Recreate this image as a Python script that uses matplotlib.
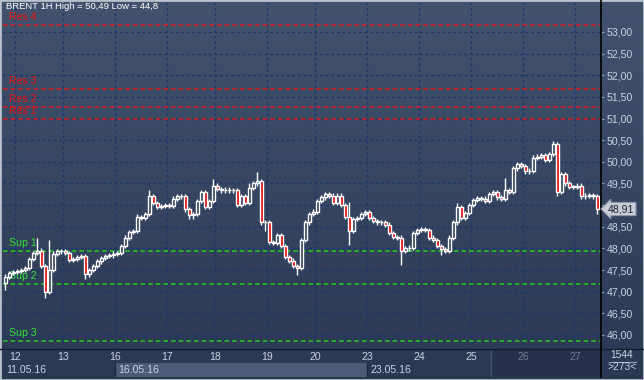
import numpy as np
import matplotlib
matplotlib.use('Agg')
import matplotlib.pyplot as plt
from matplotlib.patches import Rectangle

plt.rcParams['font.family'] = ['Liberation Sans', 'DejaVu Sans']

# hourly closes (open = previous close)
first_open = 47.2
closes = [47.35, 47.43, 47.45, 47.48, 47.5, 47.55, 47.75, 47.9, 47.95, 47.6,
          47.0, 47.5, 47.88, 47.93, 47.93, 47.9, 47.73, 47.75, 47.8, 47.82,
          47.4, 47.5, 47.6, 47.7, 47.78, 47.82, 47.84, 47.88, 47.9, 48.05,
          48.25, 48.38, 48.4, 48.72, 48.7, 48.8, 49.2, 49.05, 48.95, 48.98,
          49.0, 48.98, 49.15, 49.2, 49.2, 48.9, 48.78, 48.8, 49.1, 49.3,
          48.95, 49.1, 49.45, 49.38, 49.34, 49.36, 49.34, 49.35, 49.0, 49.2,
          49.05, 49.4, 49.5, 49.55, 48.6, 48.6, 48.15, 48.12, 48.3, 48.05,
          47.8, 47.72, 47.6, 47.55, 48.2, 48.6, 48.8, 48.85, 49.1, 49.18,
          49.25, 49.22, 49.05, 49.22, 49.0, 48.72, 48.4, 48.68, 48.7, 48.8,
          48.84, 48.7, 48.63, 48.6, 48.6, 48.55, 48.35, 48.27, 48.25, 47.95,
          48.0, 48.02, 48.35, 48.42, 48.45, 48.42, 48.25, 48.2, 48.05, 47.98,
          47.95, 48.25, 48.6, 48.95, 48.7, 48.82, 49.0, 49.12, 49.16, 49.15,
          49.1, 49.25, 49.3, 49.18, 49.15, 49.35, 49.3, 49.85, 49.95, 49.9,
          49.78, 49.8, 50.1, 50.12, 50.15, 50.05, 50.18, 50.42, 49.3, 49.72,
          49.5, 49.42, 49.42, 49.45, 49.2, 49.22, 49.23, 49.2, 48.91]

# visible long wicks (bar index -> price)
high_spikes = {8: 48.24, 11: 48.19, 33: 48.8, 36: 49.35, 52: 49.6, 61: 49.5,
               63: 49.77, 86: 49.07, 113: 49.05, 125: 49.63, 137: 50.49}
low_spikes = {0: 47.05, 10: 46.85, 20: 47.3, 46: 48.68, 47: 48.68, 65: 48.4,
              73: 47.38, 86: 48.08, 99: 47.62, 109: 47.85, 138: 49.2, 148: 48.8}
wick = 0.05

res_levels = [51.0, 51.27, 51.68, 53.16]
res_labels = ['Res 1', 'Res 2', 'Res 3', 'Res 4']
sup_levels = [47.95, 47.18, 45.86]
sup_labels = ['Sup 1', 'Sup 2', 'Sup 3']

day_start = [3, 15, 28, 41, 53, 66, 78, 91, 104, 117, 130, 143]
day_labels = ['12', '13', '16', '17', '18', '19', '20', '23', '24', '25', '26', '27']
week_start = [-0.5, 28, 91]
week_labels = ['11.05.16', '16.05.16', '23.05.16']
last_price = 48.91

W, H = 644, 380
fig = plt.figure(figsize=(W / 100, H / 100), dpi=100)
fig.patch.set_facecolor('#2f3b56')

# gradient background
bg = fig.add_axes([0, 0, 1, 1])
grad = np.linspace(0, 1, 256).reshape(-1, 1)
top = np.array([0.262, 0.322, 0.43])
bot = np.array([0.165, 0.22, 0.33])
img = top[None, None, :] * (1 - grad[:, :, None]) + bot[None, None, :] * grad[:, :, None]
bg.imshow(img, aspect='auto', extent=[0, 1, 0, 1])
bg.set_axis_off()

ax = fig.add_axes([3 / W, (H - 349) / H, 598 / W, 346 / H])
ax.patch.set_alpha(0)
ax.set_xlim(-0.5, 149)
ax.set_ylim(45.676, 53.67)

yt = np.arange(46, 53.01, 0.5)
for v in yt:
    ax.axhline(v, color='#1c3868', lw=1, ls=(0, (2, 2)), zorder=1)
for d in day_start:
    ax.axvline(d - 0.5, color='#1c3868', lw=1, ls=(0, (2, 2)), zorder=1)

for v, lab in zip(res_levels, res_labels):
    ax.axhline(v, color='#d81c24', lw=1.1, ls=(0, (3, 2)), zorder=2)
    ax.annotate(lab, (1.0, v), xytext=(0, 5.6), textcoords='offset points',
                color='#ee1111', fontsize=7.6, va='center', ha='left')
for v, lab in zip(sup_levels, sup_labels):
    ax.axhline(v, color='#22cc22', lw=1.1, ls=(0, (3, 2)), zorder=2)
    ax.annotate(lab, (1.0, v), xytext=(0, 5.6), textcoords='offset points',
                color='#33e033', fontsize=7.6, va='center', ha='left')

opens = [first_open] + closes[:-1]
bw = 0.75
for i, (o, c) in enumerate(zip(opens, closes)):
    hi = high_spikes.get(i, max(o, c) + wick)
    lo = low_spikes.get(i, min(o, c) - wick)
    ax.plot([i, i], [lo, hi], color='white', lw=1, zorder=3, solid_capstyle='butt')
    body = max(abs(c - o), 0.012)
    face = '#e00000' if c < o else '#2e3b58'
    ax.add_patch(Rectangle((i - bw / 2, min(o, c)), bw, body, facecolor=face,
                           edgecolor='white', lw=1, zorder=4))

ax.yaxis.tick_right()
ax.set_yticks(yt)
# the 49,00 label sits under the last-price box
ax.set_yticklabels(['' if abs(v - 49.0) < 0.01 else f'{v:.2f}'.replace('.', ',') for v in yt])
ax.tick_params(axis='y', length=2, pad=2, colors='#7f9cc8', labelcolor='#c9d2e2', labelsize=7.6)
ax.set_xticks([])
for s in ax.spines.values():
    s.set_visible(False)

ax.text(0.2, 53.6, 'BRENT 1H High = 50,49 Low = 44,8', color='white',
        fontsize=6.8, va='center', ha='left', zorder=6)

# bottom time panel
bx = fig.add_axes([3 / W, 3 / H, 598 / W, 28 / H])
bx.set_xlim(-0.5, 149)
bx.set_ylim(0, 2)
bx.set_facecolor('#37445f')
bx.add_patch(Rectangle((week_start[1] - 0.5, 0), week_start[2] - week_start[1], 1,
                       facecolor='#4a5a77', lw=0))
bx.add_patch(Rectangle((121.5, 0), 30, 2, facecolor='#27314b', lw=0))
bx.plot([121.5, 121.5], [0, 2], color='#46526c', lw=1)
for d, lab in zip(day_start, day_labels):
    col = '#c9d2e2' if d < 122 else '#6f7b92'
    bx.text(d - 0.5, 1.45, lab, color=col, fontsize=7.6, ha='center', va='center')
for w, lab in zip(week_start, week_labels):
    if w > 0:
        bx.plot([w - 0.5, w - 0.5], [0, 1], color='#1e2a44', lw=1)
    bx.text(max(w - 0.5, -0.5) + 0.8, 0.5, lab, color='#c9d2e2', fontsize=7.6,
            ha='left', va='center')
bx.set_axis_off()

# frame lines
fig.add_artist(plt.Line2D([0, 1], [(H - 349) / H] * 2, color='#151c2c', lw=1))
fig.add_artist(plt.Line2D([601 / W] * 2, [3 / H, 1], color='black', lw=1.2))
fig.add_artist(Rectangle((0, 0), 1, 1, transform=fig.transFigure, fill=False,
                         edgecolor='#b9c0cb', lw=2))

fig.text(622 / W, 1 - 355 / H, '1544', color='#c9d2e2', fontsize=7.4, ha='center', va='center')
fig.add_artist(plt.Line2D([609 / W, 636 / W], [1 - 361.5 / H] * 2, color='#9aa4b8', lw=0.8))
fig.text(622 / W, 1 - 367.5 / H, '>273<', color='#c9d2e2', fontsize=7.4, ha='center', va='center')

py = 1 - (32 + (53 - last_price) * 43.28) / H
fig.text(608 / W, py, f'{last_price:.2f}'.replace('.', ','), color='#1a2030', fontsize=7.6,
         ha='left', va='center', zorder=10,
         bbox=dict(boxstyle='larrow,pad=0.15', facecolor='#c8ccd4', edgecolor='#8f98a8', lw=0.8))

fig.savefig('out.png', dpi=100, facecolor=fig.get_facecolor())
